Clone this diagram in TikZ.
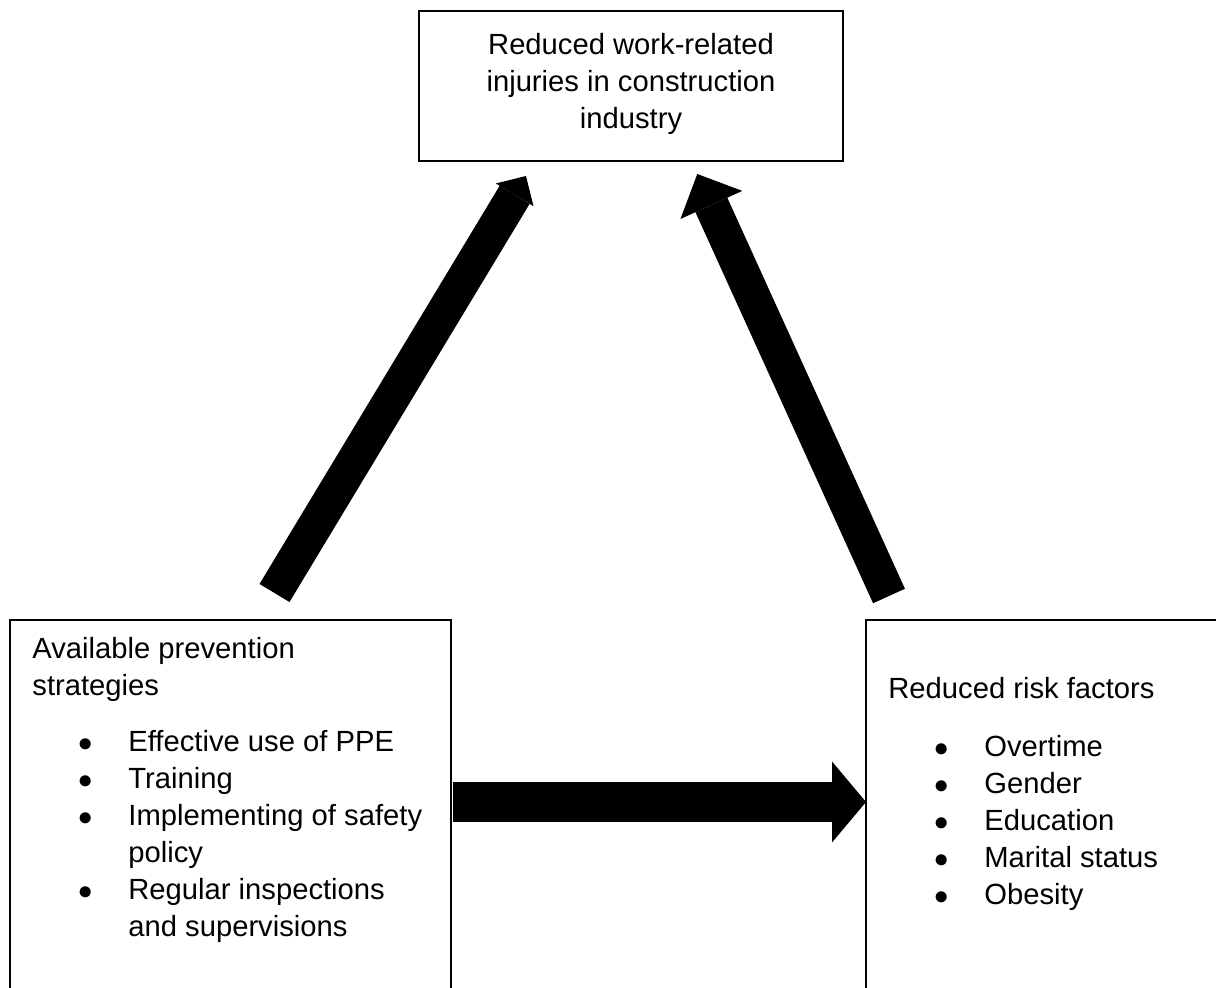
\documentclass[tikz,border=0pt]{standalone}
\usepackage{fontspec}
\setmainfont{Liberation Sans}
\usetikzlibrary{arrows.meta}

\tikzset{
  box/.style={draw, line width=1pt, inner sep=0pt},
  boxtext/.style={inner sep=0pt, align=left, font=\fontsize{14.6}{18.5}\selectfont},
  fatarrow/.style={line width=#1},
}
\newcommand{\bul}[1]{\makebox[48pt][l]{\hspace{23pt}$\bullet$}#1}

\begin{document}
\begin{tikzpicture}[x=0.5pt, y=-0.5pt]
\useasboundingbox (0,0) rectangle (1216,988);
\clip (0,0) rectangle (1216,988);
% boxes
\node[box, minimum width=212pt, minimum height=75pt] (goal) at (631,86) {};
\node[box, minimum width=220.75pt, minimum height=195pt] (prev) at (230.25,815) {};
\node[box, minimum width=187pt, minimum height=195pt] (risk) at (1053,815) {};
% texts
\node[boxtext, align=center, anchor=north] (goaltxt) at (631,33)
  {Reduced work-related\\injuries in construction\\industry};
\node[boxtext, anchor=north west] (prevtxt) at (32,637)
  {Available prevention\\strategies\\[9.5pt]
   \bul{Effective use of PPE}\\
   \bul{Training}\\
   \bul{Implementing of safety}\\
   \hspace*{48pt}policy\\
   \bul{Regular inspections}\\
   \hspace*{48pt}and supervisions};
\node[boxtext, anchor=north west] (risktxt) at (888,677)
  {Reduced risk factors\\[10.5pt]
   \bul{Overtime}\\
   \bul{Gender}\\
   \bul{Education}\\
   \bul{Marital status}\\
   \bul{Obesity}};
% arrow ends
\coordinate (prevtop) at (274.5,593);
\coordinate (goalleft) at (526,176);
\coordinate (risktop) at (889,596);
\coordinate (goalright) at (697.3,174);
\coordinate (prevright) at (453,802);
\coordinate (riskleft) at (866,802);
% block arrows
\draw[fatarrow=17.5pt, -{Triangle[length=11pt,width=22pt,line width=0pt]}] (prevtop) -- (goalleft);
\draw[fatarrow=17.5pt, -{Triangle[length=17pt,width=34pt,line width=0pt]}] (risktop) -- (goalright);
\draw[fatarrow=20pt, -{Triangle[length=17pt,width=40.5pt,line width=0pt]}] (prevright) -- (riskleft);
\end{tikzpicture}
\end{document}
